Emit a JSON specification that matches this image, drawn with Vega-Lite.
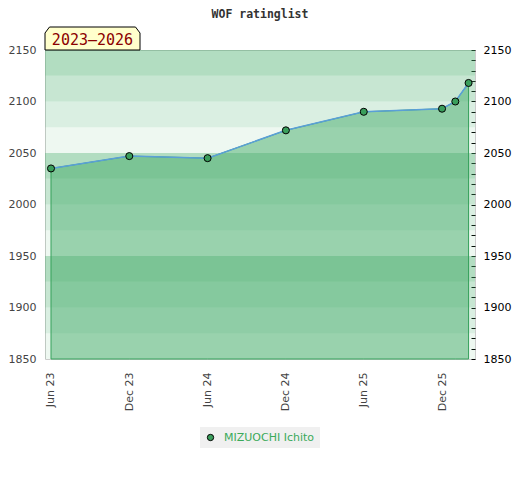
{
  "$schema": "https://vega.github.io/schema/vega-lite/v6.json",
  "autosize": "none",
  "width": 430,
  "height": 309,
  "padding": {"left": 45, "top": 50, "right": 45, "bottom": 121},
  "background": "white",
  "title": {
    "text": "WOF ratinglist",
    "font": "DejaVu Sans Mono",
    "fontSize": 11.5,
    "fontWeight": "bold",
    "color": "#333333",
    "anchor": "middle",
    "frame": "group",
    "baseline": "alphabetic",
    "offset": -4
  },
  "config": {"view": {"stroke": "#cccccc"}, "font": "DejaVu Sans"},
  "datasets": {
    "bands": [
      {"lo": 1850, "hi": 1875, "level": 1},
      {"lo": 1875, "hi": 1900, "level": 2},
      {"lo": 1900, "hi": 1925, "level": 3},
      {"lo": 1925, "hi": 1950, "level": 4},
      {"lo": 1950, "hi": 1975, "level": 1},
      {"lo": 1975, "hi": 2000, "level": 2},
      {"lo": 2000, "hi": 2025, "level": 3},
      {"lo": 2025, "hi": 2050, "level": 4},
      {"lo": 2050, "hi": 2075, "level": 1},
      {"lo": 2075, "hi": 2100, "level": 2},
      {"lo": 2100, "hi": 2125, "level": 3},
      {"lo": 2125, "hi": 2150, "level": 4}
    ],
    "ratings": [
      {"date": "2023-06-01T00:00:00", "rating": 2035, "player": "MIZUOCHI Ichito"},
      {"date": "2023-12-01T00:00:00", "rating": 2047, "player": "MIZUOCHI Ichito"},
      {"date": "2024-06-01T00:00:00", "rating": 2045, "player": "MIZUOCHI Ichito"},
      {"date": "2024-12-01T00:00:00", "rating": 2072, "player": "MIZUOCHI Ichito"},
      {"date": "2025-06-01T00:00:00", "rating": 2090, "player": "MIZUOCHI Ichito"},
      {"date": "2025-12-01T00:00:00", "rating": 2093, "player": "MIZUOCHI Ichito"},
      {"date": "2026-01-01T00:00:00", "rating": 2100, "player": "MIZUOCHI Ichito"},
      {"date": "2026-02-01T00:00:00", "rating": 2118, "player": "MIZUOCHI Ichito"}
    ],
    "label": [{"text": "2023–2026"}]
  },
  "resolve": {"axis": {"y": "independent"}},
  "layer": [
    {
      "data": {"name": "bands"},
      "mark": {"type": "rect", "color": "#44ac69"},
      "encoding": {
        "y": {
          "field": "lo",
          "type": "quantitative",
          "scale": {"domain": [1850, 2150], "nice": false, "zero": false},
          "axis": {
            "orient": "left",
            "values": [1850, 1900, 1950, 2000, 2050, 2100, 2150],
            "format": "d",
            "ticks": false,
            "domain": false,
            "grid": false,
            "labelColor": "#444444",
            "labelFontSize": 11,
            "labelPadding": 9,
            "title": null
          }
        },
        "y2": {"field": "hi"},
        "opacity": {
          "field": "level",
          "type": "quantitative",
          "scale": {"domain": [1, 4], "range": [0.09, 0.41]},
          "legend": null
        }
      }
    },
    {
      "data": {"name": "ratings"},
      "mark": {"type": "area", "fill": "#44ac69", "fillOpacity": 0.5, "stroke": "#34a05a", "strokeWidth": 1},
      "encoding": {
        "x": {
          "field": "date",
          "type": "temporal",
          "scale": {"domain": [{"year": 2023, "month": 5, "date": 18}, {"year": 2026, "month": 2, "date": 16}]},
          "axis": {
            "values": [
              {"year": 2023, "month": 6, "date": 1},
              {"year": 2023, "month": 12, "date": 1},
              {"year": 2024, "month": 6, "date": 1},
              {"year": 2024, "month": 12, "date": 1},
              {"year": 2025, "month": 6, "date": 1},
              {"year": 2025, "month": 12, "date": 1}
            ],
            "format": "%b %y",
            "labelAngle": -90,
            "ticks": false,
            "domain": false,
            "grid": false,
            "labelColor": "#444444",
            "labelFontSize": 11,
            "labelPadding": 13,
            "labelFlush": false,
            "labelOverlap": false,
            "title": null
          }
        },
        "y": {
          "field": "rating",
          "type": "quantitative",
          "axis": {
            "orient": "right",
            "values": [1850, 1860, 1870, 1880, 1890, 1900, 1910, 1920, 1930, 1940, 1950, 1960, 1970, 1980, 1990, 2000, 2010, 2020, 2030, 2040, 2050, 2060, 2070, 2080, 2090, 2100, 2110, 2120, 2130, 2140, 2150],
            "format": "d",
            "labelExpr": "datum.value % 50 === 0 ? datum.label : ''",
            "tickSize": -4,
            "tickColor": "#000000",
            "domain": false,
            "grid": false,
            "labelColor": "#000000",
            "labelFontSize": 11,
            "labelPadding": 12,
            "labelOverlap": false,
            "title": null
          }
        },
        "y2": {"datum": 1850}
      }
    },
    {
      "data": {"name": "ratings"},
      "mark": {"type": "line", "color": "#5a9fd8", "strokeWidth": 1.5},
      "encoding": {
        "x": {"field": "date", "type": "temporal"},
        "y": {"field": "rating", "type": "quantitative", "axis": null}
      }
    },
    {
      "data": {"name": "ratings"},
      "mark": {"type": "point", "filled": true, "size": 50, "stroke": "#000000", "strokeWidth": 1, "opacity": 1},
      "encoding": {
        "x": {"field": "date", "type": "temporal"},
        "y": {"field": "rating", "type": "quantitative", "axis": null},
        "color": {
          "field": "player",
          "type": "nominal",
          "scale": {"range": ["#3a9e5c"]},
          "legend": {
            "orient": "none",
            "legendX": 155,
            "legendY": 377,
            "direction": "horizontal",
            "fillColor": "#f0f0f0",
            "padding": 5,
            "title": null,
            "labelColor": "#3aaa5a",
            "labelFontSize": 11,
            "labelOffset": 8,
            "symbolType": "circle",
            "symbolSize": 40,
            "symbolStrokeColor": "#000000",
            "symbolStrokeWidth": 1
          }
        }
      }
    },
    {
      "data": {"name": "label"},
      "mark": {
        "type": "point",
        "shape": "M0,0L0,-1.7L0.45,-2.3L9.05,-2.3L9.5,-1.7L9.5,0Z",
        "size": 400,
        "filled": true,
        "fill": "#ffffcc",
        "stroke": "#000000",
        "strokeWidth": 1,
        "opacity": 1
      },
      "encoding": {
        "x": {"datum": {"year": 2023, "month": 5, "date": 18}, "type": "temporal"},
        "y": {"datum": 2150, "type": "quantitative", "axis": null}
      }
    },
    {
      "data": {"name": "label"},
      "mark": {
        "type": "text",
        "font": "DejaVu Sans Mono",
        "fontSize": 15,
        "color": "#8b0000",
        "align": "center",
        "baseline": "alphabetic",
        "dx": 47.5,
        "dy": -5
      },
      "encoding": {
        "x": {"datum": {"year": 2023, "month": 5, "date": 18}, "type": "temporal"},
        "y": {"datum": 2150, "type": "quantitative", "axis": null},
        "text": {"field": "text"}
      }
    }
  ]
}
